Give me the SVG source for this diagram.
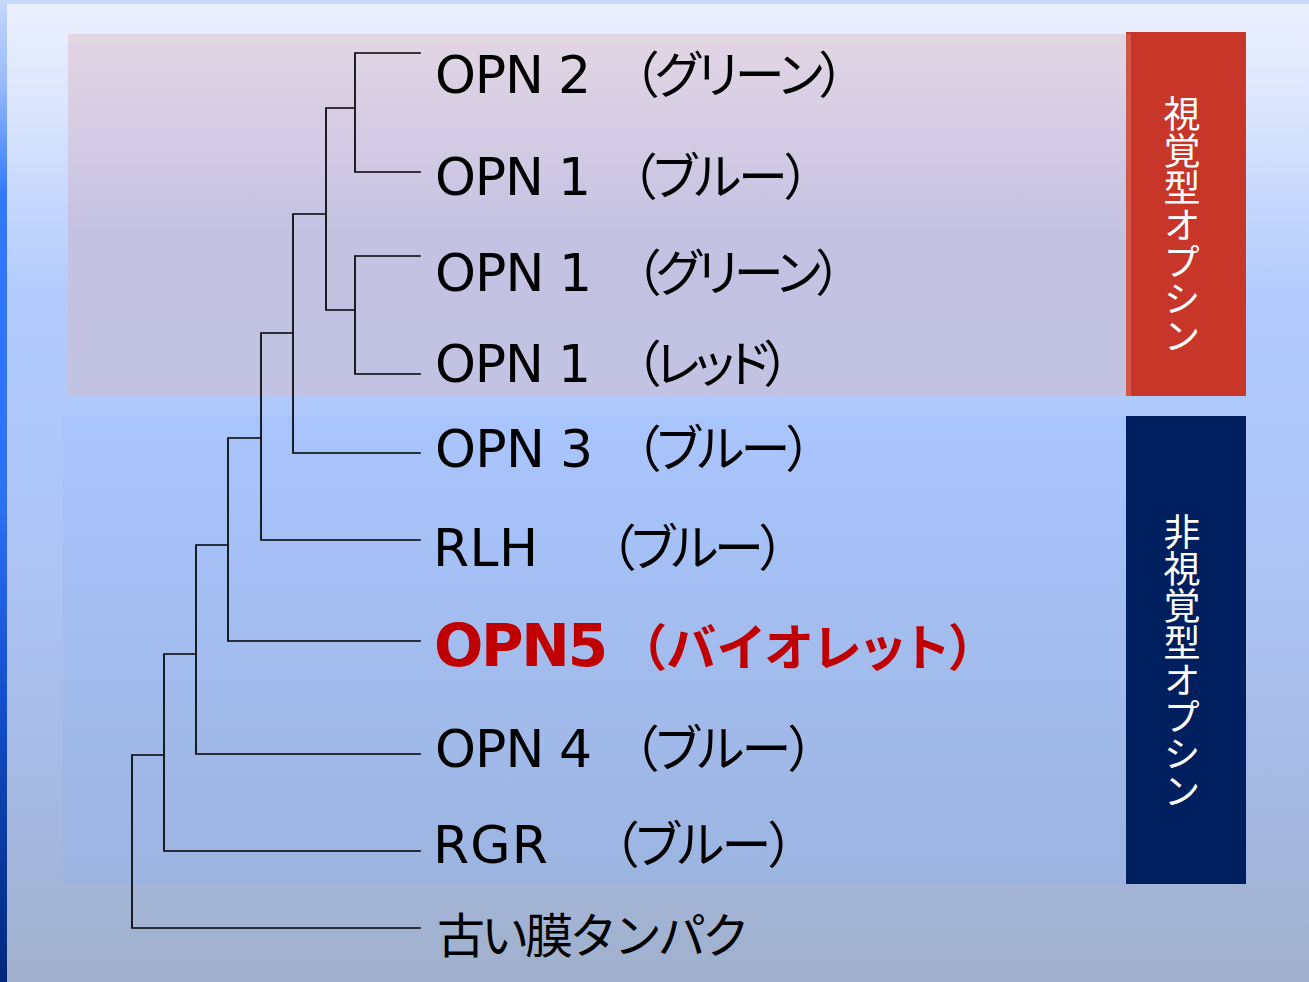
<svg xmlns="http://www.w3.org/2000/svg" width="1309" height="982" viewBox="0 0 1309 982">
<defs>
<linearGradient id="bg" x1="0" y1="0" x2="0" y2="1">
<stop offset="0" stop-color="#ebf0fd"/>
<stop offset="0.1" stop-color="#dce6fc"/>
<stop offset="0.3" stop-color="#b2cafd"/>
<stop offset="0.45" stop-color="#afc8fc"/>
<stop offset="0.75" stop-color="#a8bce8"/>
<stop offset="1" stop-color="#a0b0cc"/>
</linearGradient>
<linearGradient id="edge" x1="0" y1="0" x2="0" y2="1">
<stop offset="0" stop-color="#c4d6fa"/>
<stop offset="0.08" stop-color="#9cbcfc"/>
<stop offset="0.2" stop-color="#3078ff"/>
<stop offset="0.5" stop-color="#2e72f6"/>
<stop offset="0.7" stop-color="#1550d0"/>
<stop offset="1" stop-color="#00287a"/>
</linearGradient>
<linearGradient id="pink" x1="0" y1="0" x2="0" y2="1">
<stop offset="0" stop-color="#e3d6e4"/>
<stop offset="0.55" stop-color="#c4c2e3"/>
<stop offset="1" stop-color="#c2c2e3"/>
</linearGradient>
<linearGradient id="blue" x1="0" y1="0" x2="0" y2="1">
<stop offset="0" stop-color="#a9c5fd"/>
<stop offset="1" stop-color="#9cb4e0"/>
</linearGradient>
<style>
.lat{font-family:"DejaVu Sans","Noto Sans",sans-serif;font-size:52px;fill:#000}
.bold{font-family:"DejaVu Sans","Noto Sans",sans-serif;font-size:58px;font-weight:bold;fill:#c00000}
.jp{font-family:"Noto Sans CJK JP","Noto Sans",sans-serif;font-size:50px;fill:#000;font-feature-settings:"palt"}
.old{font-family:"Noto Sans CJK JP","Noto Sans",sans-serif;font-size:48px;fill:#000}
.hl{font-weight:bold;fill:#c00000}
.side{font-family:"Noto Sans CJK JP",sans-serif;font-size:37px;fill:#fff;writing-mode:vertical-rl;text-orientation:upright}
.tree{fill:none;stroke:#000;stroke-width:1.7;stroke-linecap:square}
</style>
</defs>
<rect x="0" y="0" width="1309" height="982" fill="#c8d8f8"/>
<rect x="7" y="4" width="1302" height="978" fill="url(#bg)"/>
<rect x="0" y="0" width="7" height="982" fill="url(#edge)"/>
<g id="panel-visual">
<rect x="68" y="34" width="1058" height="362" fill="url(#pink)"/>
</g>
<g id="panel-nonvisual">
<rect x="63" y="416" width="1063" height="468" fill="url(#blue)"/>
</g>
<g id="box-visual">
<rect x="1126" y="32" width="120" height="364" fill="#c73628"/>
<rect x="1126" y="34" width="5" height="362" fill="#d1564a"/>
<text class="side" x="1182" y="95">視覚型オプシン</text>
</g>
<g id="box-nonvisual">
<rect x="1126" y="416" width="120" height="468" fill="#001f5f"/>
<text class="side" x="1182" y="513">非視覚型オプシン</text>
</g>
<g id="connectors">
<path class="tree" d="M355,53 H420 M355,172 H420 M355,53 V172 M326,108 H355 M355,256 H420 M355,374 H420 M355,256 V374 M326,310 H355 M326,108 V310 M293,214 H326 M293,214 V453 H420 M261,333 H293 M261,333 V540 H420 M228,438 H261 M228,438 V641 H420 M196,545 H228 M196,545 V754 H420 M164,654 H196 M164,654 V851 H420 M132,755 H164 M132,755 V928 H420"/>
</g>
<g id="leaf-opn2-green">
<text class="lat" x="435" y="93" textLength="156">OPN 2</text>
<text class="jp" x="633" y="93" textLength="212">（グリーン）</text>
</g>
<g id="leaf-opn1-blue">
<text class="lat" x="435" y="195" textLength="156">OPN 1</text>
<text class="jp" x="631" y="195" textLength="179">（ブルー）</text>
</g>
<g id="leaf-opn1-green">
<text class="lat" x="435" y="291" textLength="157">OPN 1</text>
<text class="jp" x="635" y="291" textLength="207">（グリーン）</text>
</g>
<g id="leaf-opn1-red">
<text class="lat" x="435" y="382" textLength="156">OPN 1</text>
<text class="jp" x="635" y="382" textLength="155">（レッド）</text>
</g>
<g id="leaf-opn3-blue">
<text class="lat" x="435" y="467" textLength="158">OPN 3</text>
<text class="jp" x="635" y="467" textLength="177">（ブルー）</text>
</g>
<g id="leaf-rlh-blue">
<text class="lat" x="433" y="566" textLength="105">RLH</text>
<text class="jp" x="610" y="566" textLength="175">（ブルー）</text>
</g>
<g id="leaf-opn5-violet">
<text class="bold" x="434" y="666" textLength="174">OPN5</text>
<text class="jp hl" x="640" y="666" font-size="52" textLength="335">（バイオレット）</text>
</g>
<g id="leaf-opn4-blue">
<text class="lat" x="435" y="767" textLength="157">OPN 4</text>
<text class="jp" x="633" y="767" textLength="181">（ブルー）</text>
</g>
<g id="leaf-rgr-blue">
<text class="lat" x="433" y="863" textLength="115">RGR</text>
<text class="jp" x="613" y="863" textLength="181">（ブルー）</text>
</g>
<g id="leaf-old-membrane">
<text class="old" x="437" y="953" textLength="313">古い膜タンパク</text>
</g>
</svg>
